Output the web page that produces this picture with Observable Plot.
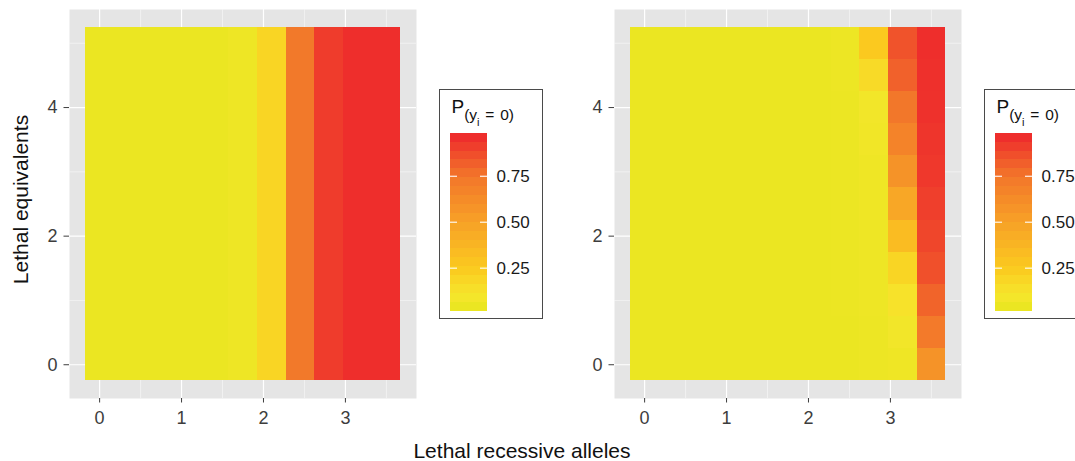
<!DOCTYPE html>
<html>
<head>
<meta charset="utf-8">
<script src="https://cdn.jsdelivr.net/npm/d3@7"></script>
<script src="https://cdn.jsdelivr.net/npm/@observablehq/plot@0.6"></script>
<style>
  body { margin: 0; background: #fff; font-family: "Liberation Sans", Arial, Helvetica, sans-serif; }
  #wrap { position: relative; width: 1075px; height: 461px; overflow: hidden; background: #fff; }
  .box { position: absolute; box-sizing: border-box; border: 1px solid #4a4a4a; background: #fff; }
  .ltitle { position: absolute; white-space: nowrap; font-size: 19px; line-height: 20px; color: #111; }
  .ttl { position: absolute; white-space: nowrap; font-size: 21px; line-height: 21px; color: #111; text-align: center; }
</style>
</head>
<body>
<div id="wrap"></div>
<script>
// ---- data ----
const alleles = [0, 0.35, 0.7, 1.05, 1.4, 1.75, 2.1, 2.45, 2.8, 3.15, 3.5];
const equivalents = [0, 0.5, 1, 1.5, 2, 2.5, 3, 3.5, 4, 4.5, 5];

// Left panel: probability depends on alleles only (one value per allele column)
const leftByAllele = [0.04, 0.04, 0.04, 0.04, 0.04, 0.055, 0.19, 0.73, 0.92, 0.96, 0.96];

// Right panel: rows = equivalents (0 .. 5), columns = alleles (0 .. 3.5)
const rightGrid = [
  [0.04, 0.04, 0.04, 0.04, 0.04, 0.04, 0.04, 0.04,  0.05,  0.06, 0.58],
  [0.04, 0.04, 0.04, 0.04, 0.04, 0.04, 0.04, 0.04,  0.05,  0.08, 0.72],
  [0.04, 0.04, 0.04, 0.04, 0.04, 0.04, 0.04, 0.045, 0.055, 0.12, 0.80],
  [0.04, 0.04, 0.04, 0.04, 0.04, 0.04, 0.04, 0.045, 0.055, 0.19, 0.86],
  [0.04, 0.04, 0.04, 0.04, 0.04, 0.04, 0.04, 0.045, 0.055, 0.33, 0.89],
  [0.04, 0.04, 0.04, 0.04, 0.04, 0.04, 0.04, 0.045, 0.06,  0.46, 0.91],
  [0.04, 0.04, 0.04, 0.04, 0.04, 0.04, 0.04, 0.045, 0.06,  0.58, 0.93],
  [0.04, 0.04, 0.04, 0.04, 0.04, 0.04, 0.04, 0.045, 0.07,  0.67, 0.94],
  [0.04, 0.04, 0.04, 0.04, 0.04, 0.04, 0.04, 0.045, 0.08,  0.74, 0.95],
  [0.04, 0.04, 0.04, 0.04, 0.04, 0.04, 0.04, 0.05,  0.16,  0.81, 0.955],
  [0.04, 0.04, 0.04, 0.04, 0.04, 0.04, 0.04, 0.05,  0.25,  0.85, 0.96]
];

const xTicks = [0, 1, 2, 3];
const xMinor = [0.5, 1.5, 2.5, 3.5];
const yTicks = [0, 2, 4];
const yMinor = [1, 3, 5];
const legendTicks = [0.25, 0.5, 0.75];

// colour gradient: low end, intermediate stops, high end
const lowColor = "#EBE622";
const midStops = [0.1, 0.25, 0.5, 0.75];
const midColors = ["#F6E62C", "#FBC91F", "#F7A127", "#F2752A"];
const highColor = "#EE2E2C";

const xTitle = "Lethal recessive alleles";
const yTitle = "Lethal equivalents";

// ---- build tables ----
const leftData = [];
equivalents.forEach(e => alleles.forEach((a, i) => leftData.push({a, e, p: leftByAllele[i]})));
const rightData = [];
equivalents.forEach((e, r) => alleles.forEach((a, i) => rightData.push({a, e, p: rightGrid[r][i]})));

const wrap = document.getElementById("wrap");
const FONT = '"Liberation Sans", Arial, Helvetica, sans-serif';

function place(node, left, top) {
  node.style.position = "absolute";
  node.style.left = left + "px";
  node.style.top = top + "px";
  wrap.appendChild(node);
}

function drawPanel(data, offsetX) {
  const hx = (alleles[1] - alleles[0]) / 2;
  const hy = (equivalents[1] - equivalents[0]) / 2;
  const xa = alleles[0] - hx, xb = alleles[alleles.length - 1] + hx, px = (xb - xa) * 0.05;
  const ya = equivalents[0] - hy, yb = equivalents[equivalents.length - 1] + hy, py = (yb - ya) * 0.05;
  const cdom = d3.extent(data, d => d.p);
  const colorOpts = {
    type: "linear",
    domain: [cdom[0], ...midStops, cdom[1]],
    range: [lowColor, ...midColors, highColor],
    interpolate: "rgb"
  };

  const chart = Plot.plot({
    width: 430, height: 461,
    marginLeft: 69, marginRight: 14, marginTop: 9, marginBottom: 63,
    style: {fontFamily: FONT, fontSize: "18px", color: "#3d3d3d", background: "transparent", overflow: "visible"},
    x: {domain: [xa - px, xb + px]},
    y: {domain: [ya - py, yb + py]},
    color: colorOpts,
    marks: [
      Plot.frame({fill: "#E5E5E5", stroke: null}),
      Plot.ruleX(xMinor, {stroke: "#F7F7F7", strokeWidth: 0.7}),
      Plot.ruleY(yMinor, {stroke: "#F7F7F7", strokeWidth: 0.7}),
      Plot.ruleX(xTicks, {stroke: "#FFFFFF", strokeWidth: 1.2}),
      Plot.ruleY(yTicks, {stroke: "#FFFFFF", strokeWidth: 1.2}),
      Plot.rect(data, {
        x1: d => d.a - hx, x2: d => d.a + hx,
        y1: d => d.e - hy, y2: d => d.e + hy,
        fill: "p", shapeRendering: "crispEdges"
      }),
      Plot.axisX(xTicks, {tickSize: 4.5, tickPadding: 8.5, label: null, fontSize: 18, tickFormat: d => String(d)}),
      Plot.axisY(yTicks, {tickSize: 5.5, tickPadding: 6.5, label: null, fontSize: 18, tickFormat: d => String(d)})
    ]
  });
  place(chart, offsetX, 0);

  // legend (colorbar with 20 bins, like ggplot's)
  const [lo, hi] = cdom;
  const n = 20, step = (hi - lo) / (n - 1);
  const bins = d3.range(n).map(i => lo + i * step);

  const box = document.createElement("div");
  box.className = "box";
  box.style.width = "104px";
  box.style.height = "230px";
  place(box, 439 + offsetX, 89);

  const leg = Plot.plot({
    width: 104, height: 230,
    marginLeft: 11, marginRight: 56, marginTop: 43.7, marginBottom: 8.3,
    style: {fontFamily: FONT, fontSize: "17px", color: "#1a1a1a", background: "transparent", overflow: "visible"},
    x: {domain: [0, 1], axis: null},
    y: {domain: [lo - step / 2, hi + step / 2], axis: null},
    color: colorOpts,
    marks: [
      Plot.rect(bins, {x1: 0, x2: 1, y1: d => d - step / 2, y2: d => d + step / 2, fill: d => d, shapeRendering: "crispEdges"}),
      Plot.ruleY(legendTicks, {x1: 0, x2: 0.19, stroke: "#FFFFFF", strokeWidth: 1.1}),
      Plot.ruleY(legendTicks, {x1: 0.81, x2: 1, stroke: "#FFFFFF", strokeWidth: 1.1}),
      Plot.text(legendTicks, {x: 1, y: d => d, dx: 9, textAnchor: "start", text: d => d.toFixed(2), fontSize: 17, fill: "#1a1a1a"})
    ]
  });
  place(leg, 439 + offsetX, 89);

  const lt = document.createElement("div");
  lt.className = "ltitle";
  lt.innerHTML = 'P<span style="font-size:15.5px;position:relative;top:7.4px;word-spacing:1.5px">(y<span style="font-size:11px;position:relative;top:5.5px">i</span> = 0)</span>';
  place(lt, 451.5 + offsetX, 96.7);
}

drawPanel(leftData, 0);
drawPanel(rightData, 545);

// axis titles
const xt = document.createElement("div");
xt.className = "ttl";
xt.style.width = "400px";
xt.textContent = xTitle;
place(xt, 522 - 200, 440);

const yt = document.createElement("div");
yt.className = "ttl";
yt.style.width = "300px";
yt.style.transform = "rotate(-90deg)";
yt.textContent = yTitle;
place(yt, 19.5 - 150, 199 - 10.5);
</script>
</body>
</html>
